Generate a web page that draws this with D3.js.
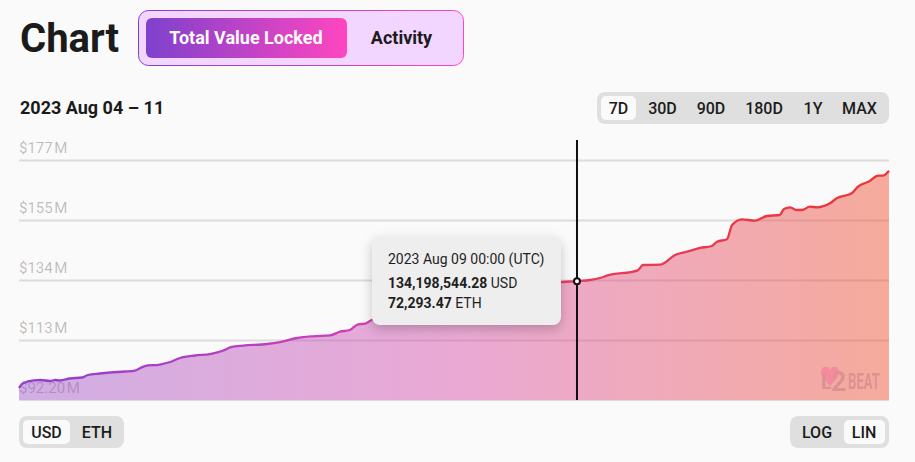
<!DOCTYPE html>
<html>
<head>
<meta charset="utf-8">
<script src="https://cdn.jsdelivr.net/npm/d3@7"></script>
<style>
  html, body { margin: 0; padding: 0; background: #fafafa; }
  svg { display: block; font-family: Roboto, sans-serif; }
</style>
</head>
<body>
<div id="chart"></div>
<script>
// hours since 2023 Aug 04 12:00 UTC
const hours = [0, 0.6, 1.7, 4.1, 6, 7, 7.9, 9.8, 12.2, 13.3, 15.6, 17.6, 20.5, 22.4, 24.3, 27.2, 29.2, 31.1, 34, 36.9,
  39.2, 41.1, 43.3, 47.9, 50.4, 53.7, 56.8, 60.1, 62, 63.9, 65.5, 66.8, 68.2, 73.6, 79.4, 85.2, 91, 96.7, 101.6, 105,
  107.75, 110.3, 112.2, 113.5, 119.5, 120.5, 123.8, 126.7, 129, 131.5, 133.8, 134.8, 136.7, 137.7, 139.6, 142.1, 144.4,
  146.9, 147.7, 148.9, 150.2, 151.2, 152.7, 154.1, 156.6, 157.9, 160.8, 162, 164.3, 165.9, 166.8, 168];
// total value locked, millions of USD
const tvl = [96.44, 97.85, 98.74, 99.27, 98.91, 99.27, 99.09, 99.8, 100.15, 101.03, 101.56, 101.92, 102.27, 102.62, 104.21, 104.74, 105.63, 107.04, 107.92, 108.45,
  109.51, 110.93, 111.39, 111.99, 112.69, 114.11, 114.71, 115.06, 116.33, 116.93, 118.95, 119.16, 120.57, 122.59, 125.06, 127.53, 130, 131.77, 133.19, 133.89,
  134.2, 134.6, 135.31, 136.12, 138.03, 139.9, 140.01, 143.43, 144.6, 145.91, 146.61, 148.13, 148.98, 154.03, 156.05, 155.55, 157.21,
  157.57, 159.69, 160.29, 159.33, 159.33, 160.5, 160.29, 161.7, 163.47, 165.23, 167.56, 169.58, 171.45, 171.45, 173.22];
const tickValues = [92.2, 113.4, 134.6, 155.8, 177];
const tickLabels = ['$92.20\u200aM', '$113\u200aM', '$134\u200aM', '$155\u200aM', '$177\u200aM'];
const rangeLabels = ['7D', '30D', '90D', '180D', '1Y', 'MAX'];
const currencyLabels = ['USD', 'ETH'];
const scaleLabels = ['LOG', 'LIN'];
const hoverHour = 107.75;
const hoverValue = 134.198544;

const width = 915, height = 462;
const margin = {top: 160, right: 26, bottom: 62, left: 19};

const svg = d3.select('#chart').append('svg')
    .attr('width', width)
    .attr('height', height);

const x = d3.scaleLinear().domain([0, 168]).range([margin.left, width - margin.right]);
const y = d3.scaleLinear().domain([92.2, 177]).range([height - margin.bottom, margin.top]);

// gradients
const defs = svg.append('defs');
function addGradient(id, stops) {
  const g = defs.append('linearGradient').attr('id', id).attr('x1', 0).attr('x2', 1).attr('y1', 0).attr('y2', 0);
  stops.forEach(s => g.append('stop').attr('offset', s[0]).attr('stop-color', s[1]));
}
addGradient('fillGrad', [[0, '#9d51c9'], [0.5, '#d646a8'], [1, '#f04a28']]);
addGradient('toggleGrad', [[0, '#7e41cc'], [1, '#ff46c0']]);
addGradient('lineGrad', [[0, '#8f3fd0'], [0.45, '#d83fb4'], [0.65, '#e83a5c'], [1, '#ee3434']]);

// axis labels and grid
const yAxis = d3.axisRight(y)
    .tickValues(tickValues)
    .tickSize(width - margin.left - margin.right)
    .tickFormat((d, i) => tickLabels[i]);

const axisG = svg.append('g')
    .attr('transform', `translate(${margin.left},0)`)
    .call(yAxis)
    .attr('font-family', null);
axisG.select('.domain').remove();
axisG.selectAll('.tick line').attr('stroke', '#dcdcdc').attr('stroke-width', 2);
axisG.selectAll('.tick').filter(d => d === 92.2).select('line').attr('stroke-width', 1);
axisG.selectAll('.tick text')
    .attr('x', 0)
    .attr('dy', -8)
    .attr('dominant-baseline', 'auto')
    .attr('fill', 'rgba(0,0,0,0.25)')
    .attr('font-size', 15);

// area and line
const area = d3.area()
    .x((d, i) => x(hours[i]))
    .y0(y(92.2))
    .y1(d => y(d))
    .curve(d3.curveMonotoneX);
const line = d3.line()
    .x((d, i) => x(hours[i]))
    .y(d => y(d))
    .curve(d3.curveMonotoneX);

svg.append('path')
    .datum(tvl)
    .attr('d', area)
    .attr('fill', 'url(#fillGrad)')
    .attr('fill-opacity', 0.45);
svg.append('path')
    .datum(tvl)
    .attr('d', line)
    .attr('fill', 'none')
    .attr('stroke', 'url(#lineGrad)')
    .attr('stroke-width', 2.3);

// watermark
const logo = svg.append('g').attr('opacity', 0.55);
logo.append('path')
    .attr('d', 'M830 386 C824 380 821 376 821 372 C821 366 828 365 830 370 C832 365 839 366 839 372 C839 376 836 380 830 386 Z')
    .attr('fill', '#f7719a');
logo.append('text').attr('x', 821).attr('y', 389).attr('font-size', 20).attr('font-weight', 700)
    .attr('fill', '#c77f86').text('L');
logo.append('text').attr('x', 831).attr('y', 391).attr('font-size', 27).attr('font-weight', 700)
    .attr('fill', '#c77f86').text('2');
logo.append('text').attr('x', 848).attr('y', 389).attr('font-size', 22).attr('font-weight', 700)
    .attr('textLength', 32).attr('lengthAdjust', 'spacingAndGlyphs')
    .attr('fill', '#c77f86').text('BEAT');

// crosshair
svg.append('line')
    .attr('x1', x(hoverHour)).attr('x2', x(hoverHour))
    .attr('y1', 140).attr('y2', y(92.2))
    .attr('stroke', '#111').attr('stroke-width', 2);
svg.append('circle')
    .attr('cx', x(hoverHour)).attr('cy', y(hoverValue)).attr('r', 3)
    .attr('fill', '#fafafa').attr('stroke', '#111').attr('stroke-width', 2);

// tooltip
const tip = svg.append('g');
tip.append('rect')
    .attr('x', 372).attr('y', 237).attr('width', 189).attr('height', 88).attr('rx', 8)
    .attr('fill', '#eeeeee')
    .style('filter', 'drop-shadow(0 4px 6px rgba(0,0,0,0.22))');
tip.append('text').attr('x', 388).attr('y', 264).attr('font-size', 14).attr('fill', '#1f1f1f').text('2023 Aug 09 00:00 (UTC)');
const tipUsd = tip.append('text').attr('x', 388).attr('y', 288).attr('font-size', 14).attr('fill', '#1f1f1f');
tipUsd.append('tspan').attr('font-weight', 700).text('134,198,544.28');
tipUsd.append('tspan').text(' USD');
const tipEth = tip.append('text').attr('x', 388).attr('y', 308).attr('font-size', 14).attr('fill', '#1f1f1f');
tipEth.append('tspan').attr('font-weight', 700).text('72,293.47');
tipEth.append('tspan').text(' ETH');

// header
svg.append('text').attr('x', 20).attr('y', 52).attr('font-size', 40).attr('font-weight', 700)
    .attr('fill', '#1b1b1b').text('Chart');
svg.append('rect')
    .attr('x', 138.5).attr('y', 10.5).attr('width', 325).attr('height', 55).attr('rx', 10)
    .attr('fill', '#f3d6ff').attr('stroke', 'url(#toggleGrad)').attr('stroke-width', 1);
svg.append('rect')
    .attr('x', 146).attr('y', 18).attr('width', 201).attr('height', 40).attr('rx', 6)
    .attr('fill', 'url(#toggleGrad)');
svg.append('text').attr('x', 246).attr('y', 43.5).attr('text-anchor', 'middle').attr('font-size', 18)
    .attr('font-weight', 700).attr('fill', '#fafafa').text('Total Value Locked');
svg.append('text').attr('x', 401.5).attr('y', 43.5).attr('text-anchor', 'middle').attr('font-size', 18)
    .attr('font-weight', 700).attr('fill', '#1b1b1b').text('Activity');
svg.append('text').attr('x', 20).attr('y', 114).attr('font-size', 18).attr('font-weight', 700)
    .attr('fill', '#1b1b1b').text('2023 Aug 04 \u2013 11');

// pill controls
function pill(box, labels, centers, selBox) {
  const g = svg.append('g');
  g.append('rect').attr('x', box[0]).attr('y', box[1]).attr('width', box[2]).attr('height', 32).attr('rx', 8)
      .attr('fill', '#dfdfdf');
  g.append('rect').attr('x', selBox[0]).attr('y', box[1] + 4).attr('width', selBox[1]).attr('height', 24).attr('rx', 5)
      .attr('fill', '#fafafa');
  g.selectAll('text').data(labels).join('text')
      .attr('x', (d, i) => centers[i])
      .attr('y', box[1] + 21.5)
      .attr('text-anchor', 'middle')
      .attr('font-size', 16)
      .attr('font-weight', 500)
      .attr('fill', '#1b1b1b')
      .text(d => d);
}
pill([597, 92, 292], rangeLabels, [618.5, 662.5, 711, 764, 813, 859.5], [601, 35]);
pill([19, 416, 105], currencyLabels, [46.5, 97], [23, 47]);
pill([790, 416, 99], scaleLabels, [817, 864], [844, 41]);
</script>
</body>
</html>
